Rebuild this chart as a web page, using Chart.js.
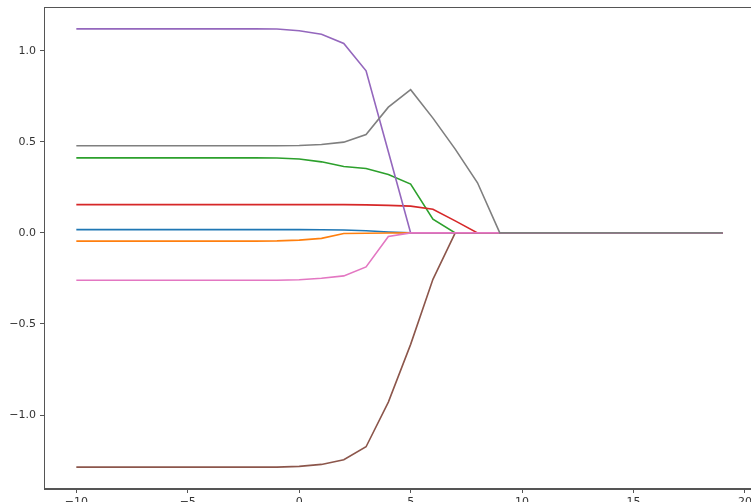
<!DOCTYPE html>
<html>
<head>
<meta charset="utf-8">
<script src="https://cdn.jsdelivr.net/npm/chart.js@4.4.1/dist/chart.umd.min.js"></script>
<style>
  html, body { margin: 0; padding: 0; background: #fff; overflow: hidden; }
  #wrap { width: 760px; height: 502px; }
</style>
</head>
<body>
<div id="wrap"><canvas id="chart" width="760" height="502"></canvas></div>
<script>
// x positions (log scale of alpha)
const alphas = [-10, -9, -8, -7, -6, -5, -4, -3, -2, -1, 0, 1, 2, 3, 4, 5, 6, 7, 8, 9, 10, 11, 12, 13, 14, 15, 16, 17, 18, 19];

const coefBlue   = [0.018, 0.018, 0.018, 0.018, 0.018, 0.018, 0.018, 0.018, 0.018, 0.018, 0.018, 0.017, 0.016, 0.012, 0.005, 0, 0, 0, 0, 0, 0, 0, 0, 0, 0, 0, 0, 0, 0, 0];
const coefOrange = [-0.045, -0.045, -0.045, -0.045, -0.045, -0.045, -0.045, -0.045, -0.045, -0.044, -0.040, -0.030, -0.003, -0.002, -0.001, 0, 0, 0, 0, 0, 0, 0, 0, 0, 0, 0, 0, 0, 0, 0];
const coefGreen  = [0.412, 0.412, 0.412, 0.412, 0.412, 0.412, 0.412, 0.412, 0.412, 0.411, 0.406, 0.39, 0.364, 0.353, 0.32, 0.268, 0.075, 0, 0, 0, 0, 0, 0, 0, 0, 0, 0, 0, 0, 0];
const coefRed    = [0.155, 0.155, 0.155, 0.155, 0.155, 0.155, 0.155, 0.155, 0.155, 0.155, 0.155, 0.155, 0.155, 0.154, 0.151, 0.147, 0.13, 0.066, 0, 0, 0, 0, 0, 0, 0, 0, 0, 0, 0, 0];
const coefPurple = [1.12, 1.12, 1.12, 1.12, 1.12, 1.12, 1.12, 1.12, 1.12, 1.119, 1.11, 1.09, 1.04, 0.89, 0.445, 0, 0, 0, 0, 0, 0, 0, 0, 0, 0, 0, 0, 0, 0, 0];
const coefBrown  = [-1.286, -1.286, -1.286, -1.286, -1.286, -1.286, -1.286, -1.286, -1.286, -1.286, -1.282, -1.271, -1.245, -1.174, -0.929, -0.612, -0.255, 0, 0, 0, 0, 0, 0, 0, 0, 0, 0, 0, 0, 0];
const coefPink   = [-0.26, -0.26, -0.26, -0.26, -0.26, -0.26, -0.26, -0.26, -0.26, -0.26, -0.257, -0.249, -0.236, -0.187, -0.02, 0, 0, 0, 0, 0, 0, 0, 0, 0, 0, 0, 0, 0, 0, 0];
const coefGray   = [0.478, 0.478, 0.478, 0.478, 0.478, 0.478, 0.478, 0.478, 0.478, 0.478, 0.48, 0.485, 0.498, 0.54, 0.69, 0.786, 0.63, 0.46, 0.275, 0, 0, 0, 0, 0, 0, 0, 0, 0, 0, 0];

const xTicks = [-10, -5, 0, 5, 10, 15, 20];
const yTicks = [-1.0, -0.5, 0.0, 0.5, 1.0];

const series = [coefBlue, coefOrange, coefGreen, coefRed, coefPurple, coefBrown, coefPink, coefGray];
const colors = ['#1f77b4', '#ff7f0e', '#2ca02c', '#d62728', '#9467bd', '#8c564b', '#e377c2', '#7f7f7f'];

const minus = s => s.replace('-', '\u2212');

// matplotlib-like box around the axes
const frame = {
  id: 'frame',
  afterDraw(chart) {
    const a = chart.chartArea, c = chart.ctx;
    c.save();
    c.strokeStyle = '#555';
    c.lineWidth = 1;
    c.strokeRect(a.left + 0.5, a.top + 0.5, a.right - a.left - 1, a.bottom - a.top - 1);
    c.restore();
  }
};

new Chart(document.getElementById('chart'), {
  type: 'line',
  data: {
    datasets: series.map((vals, i) => ({
      data: vals.map((v, j) => ({ x: alphas[j], y: v })),
      borderColor: colors[i],
      backgroundColor: colors[i],
      borderWidth: 1.6,
      pointRadius: 0,
      tension: 0,
      order: series.length - i
    }))
  },
  options: {
    responsive: false,
    animation: false,
    layout: { padding: { top: 7, right: 5, left: 0, bottom: 0 } },
    plugins: { legend: { display: false }, tooltip: { enabled: false } },
    scales: {
      x: {
        type: 'linear',
        min: -11.45,
        max: 20.45,
        afterFit(scale) { scale.height = 13; scale.paddingLeft = 0; scale.paddingRight = 0; },
        afterBuildTicks(scale) { scale.ticks = xTicks.map(v => ({ value: v })); },
        grid: { display: true, drawOnChartArea: false, drawTicks: true, tickLength: 4, color: '#555' },
        border: { display: true, color: '#555', width: 1 },
        ticks: {
          padding: 3,
          color: '#333',
          maxRotation: 0,
          font: { family: 'DejaVu Sans', size: 11 },
          callback: v => minus(String(v))
        }
      },
      y: {
        type: 'linear',
        min: -1.406,
        max: 1.24,
        afterFit(scale) { scale.width = 44; scale.paddingTop = 0; scale.paddingBottom = 0; },
        afterBuildTicks(scale) { scale.ticks = yTicks.map(v => ({ value: v })); },
        grid: { display: true, drawOnChartArea: false, drawTicks: true, tickLength: 4, color: '#555' },
        border: { display: true, color: '#555', width: 1 },
        ticks: {
          padding: 4,
          color: '#333',
          font: { family: 'DejaVu Sans', size: 11 },
          callback: v => minus(v.toFixed(1))
        }
      }
    }
  },
  plugins: [frame]
});
</script>
</body>
</html>
